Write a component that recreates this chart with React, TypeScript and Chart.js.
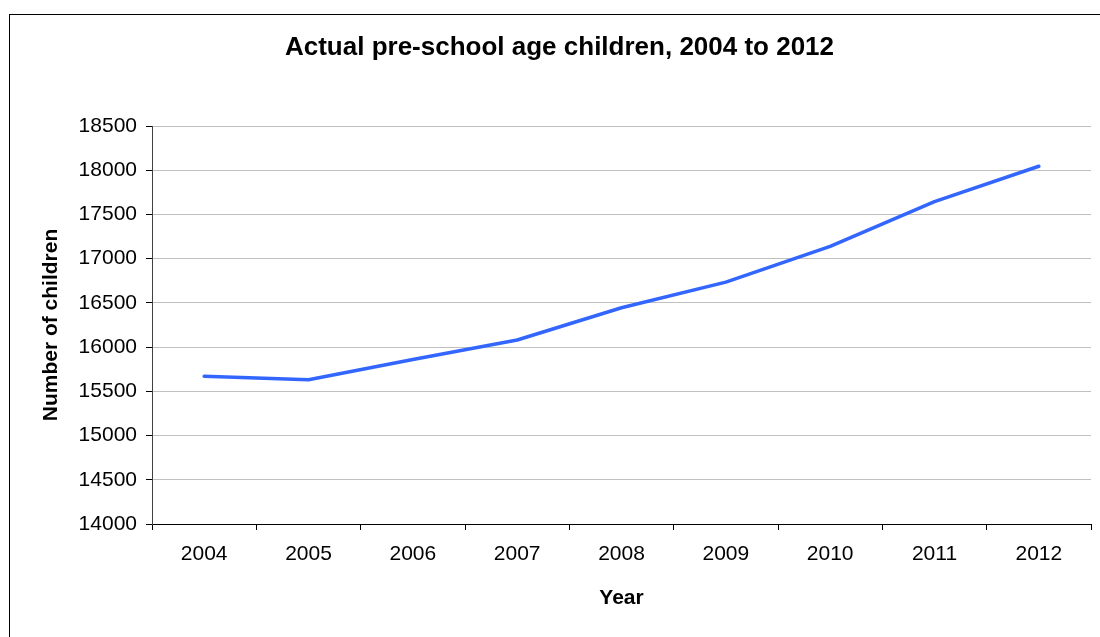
import React, { useEffect, useRef } from "react";
import { Chart, registerables } from "chart.js";

Chart.register(...registerables);

const years = ["2004", "2005", "2006", "2007", "2008", "2009", "2010", "2011", "2012"];
const children = [15670, 15630, 15860, 16080, 16445, 16735, 17140, 17645, 18045];
const yMin = 14000;
const yMax = 18500;
const yStep = 500;
const titleText = "Actual pre-school age children, 2004 to 2012";
const xTitle = "Year";
const yTitle = "Number of children";

const FONT = "'Liberation Sans', Arial, sans-serif";

const frame = {
  id: "frame",
  beforeDraw(chart: any) {
    const ctx = chart.ctx;
    ctx.save();
    ctx.fillStyle = "#ffffff";
    ctx.fillRect(0, 0, chart.width, chart.height);
    ctx.strokeStyle = "#000000";
    ctx.lineWidth = 1;
    ctx.strokeRect(9.5, 14.5, chart.width + 20, chart.height + 20);
    ctx.restore();
  },
  afterDraw(chart: any) {
    const ctx = chart.ctx;
    ctx.save();
    ctx.fillStyle = "#000";
    ctx.font = `bold 26px ${FONT}`;
    ctx.textAlign = "center";
    ctx.textBaseline = "middle";
    ctx.fillText(titleText, 559.5, 47.5);
    ctx.restore();
  },
};

export default function App() {
  const ref = useRef<HTMLCanvasElement | null>(null);
  useEffect(() => {
    if (!ref.current) return;
    const chart = new Chart(ref.current, {
      type: "line",
      data: {
        labels: years,
        datasets: [
          {
            data: children,
            borderColor: "#3366ff",
            borderWidth: 3.5,
            pointRadius: 0,
            tension: 0,
            borderCapStyle: "round",
            borderJoinStyle: "round",
          },
        ],
      },
      options: {
        animation: false,
        responsive: false,
        devicePixelRatio: 1,
        layout: { padding: { left: 0, right: 9, top: 126, bottom: 0 } },
        plugins: {
          legend: { display: false },
          tooltip: { enabled: false },
          title: { display: false },
        },
        scales: {
          x: {
            type: "category",
            offset: true,
            afterFit(scale: any) {
              scale.height = 113;
            },
            grid: {
              display: true,
              drawOnChartArea: false,
              offset: true,
              tickLength: 6,
              tickColor: "#000",
            },
            border: { display: true, color: "#000", width: 1 },
            ticks: {
              color: "#000",
              font: { family: FONT, size: 21 },
              padding: 12,
              maxRotation: 0,
              autoSkip: false,
            },
            title: {
              display: true,
              text: xTitle,
              color: "#000",
              font: { family: FONT, size: 21, weight: "bold" },
              padding: { top: 0, bottom: 26 },
            },
          },
          y: {
            min: yMin,
            max: yMax,
            afterFit(scale: any) {
              scale.width = 152;
            },
            grid: {
              color: "#c0c0c0",
              lineWidth: 1,
              tickLength: 6,
              tickColor: "#000",
            },
            border: { display: true, color: "#404040", width: 1 },
            ticks: {
              stepSize: yStep,
              color: "#000",
              font: { family: FONT, size: 21 },
              padding: 9,
              callback: (v: any) => String(v),
            },
            title: {
              display: true,
              text: yTitle,
              color: "#000",
              font: { family: FONT, size: 21, weight: "bold" },
              padding: { top: 39, bottom: 0 },
            },
          },
        },
      },
      plugins: [frame],
    } as any);
    return () => chart.destroy();
  }, []);
  return (
    <div style={{ position: "absolute", left: 0, top: 0, width: 1100, height: 637 }}>
      <canvas ref={ref} width={1100} height={637} style={{ display: "block", width: 1100, height: 637 }} />
    </div>
  );
}
